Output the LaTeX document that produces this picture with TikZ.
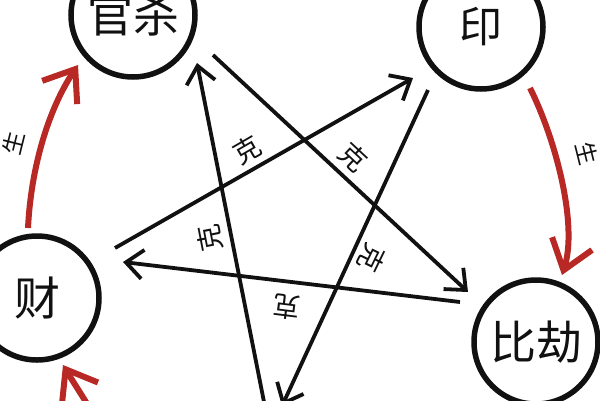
\documentclass[tikz,border=0pt]{standalone}
\usepackage{fontspec}
\newfontfamily\cjk{Noto Sans CJK SC}
\usetikzlibrary{arrows.meta}
\definecolor{inkred}{RGB}{184,40,36}
\definecolor{ink}{RGB}{17,17,17}
\begin{document}
\begin{tikzpicture}[x=1pt,y=-1pt,
  elem/.style={circle, draw=ink, line width=5.5pt, minimum size=124pt, inner sep=0pt,
    font=\cjk\fontsize{46}{46}\selectfont, text=ink},
  kearrow/.style={draw=ink, line width=3.8pt, -{Straight Barb[length=17pt,width=29pt]}},
  shengarrow/.style={draw=inkred, line width=6pt, -{Straight Barb[length=28pt,width=42pt]}},
  kelabel/.style={font=\cjk\fontsize{27}{27}\selectfont, text=ink, inner sep=0pt},
  shenglabel/.style={font=\cjk\fontsize{23}{23}\selectfont, text=ink, inner sep=0pt}]
\useasboundingbox (0,0) rectangle (600,400);
\fill[white] (0,0) rectangle (600,400);

% elements
\node[elem] (guansha) at (133,15) {\raisebox{-5pt}{官杀}};
\node[elem, font=\cjk\fontsize{43}{43}\selectfont] (yin) at (481,27) {印};
\node[elem] (bijie) at (536,342) {比劫};
\node[elem] (cai) at (37,298) {财};

% end points of the star connectors
\coordinate (a1) at (213,55);  \coordinate (b1) at (468,292);
\coordinate (a2) at (428,90);  \coordinate (b2) at (282,406);
\coordinate (a3) at (460,302); \coordinate (b3) at (123,262);
\coordinate (a4) at (115,248); \coordinate (b4) at (413,78);
\coordinate (a5) at (266,412); \coordinate (b5) at (197,63);

\draw[kearrow] (a1) -- (b1);
\draw[kearrow] (a2) -- (b2);
\draw[kearrow] (a3) -- (b3);
\draw[kearrow] (a4) -- (b4);
\draw[kearrow] (a5) -- (b5);

% 克 labels
\node[kelabel, rotate=-43] (k1) at (353,157) {克};
\node[kelabel, rotate=-116] (k2) at (372,258) {克};
\node[kelabel, rotate=173] (k3) at (287,307) {克};
\node[kelabel, rotate=30] (k4) at (247,150) {克};
\node[kelabel, rotate=101] (k5) at (210,238) {克};

% red generating arcs
\coordinate (r1s) at (28,228);  \coordinate (r1e) at (78,65);
\coordinate (r2s) at (530,88);  \coordinate (r2e) at (562,275);
\coordinate (r3s) at (100,425); \coordinate (r3e) at (63,365);
\draw[shengarrow] (r1s) .. controls (31,168) and (48,110) .. (r1e);
\draw[shengarrow] (r2s) .. controls (556,140) and (578,225) .. (r2e);
\draw[shengarrow] (r3s) .. controls (85,400) and (72,380) .. (r3e);

\node[shenglabel, rotate=76] (sl) at (13,143) {生};
\node[shenglabel, rotate=-76] (sr) at (587,153) {生};
\end{tikzpicture}
\end{document}
